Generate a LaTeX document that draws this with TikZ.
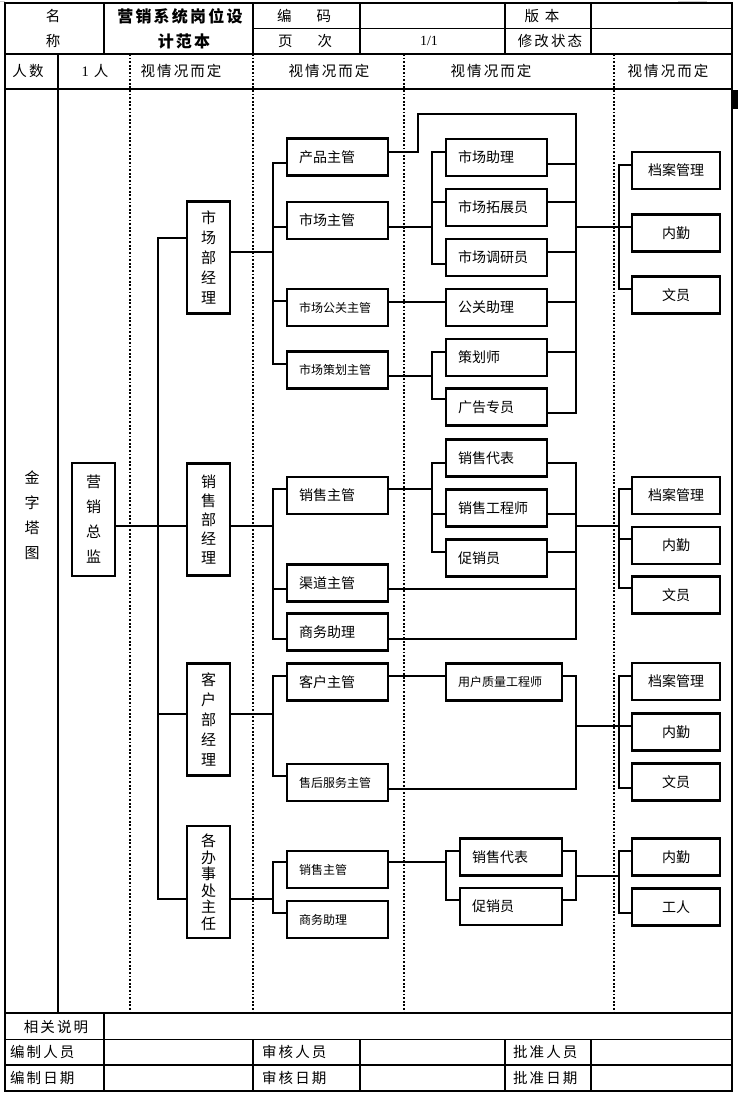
\documentclass[tikz,border=0pt]{standalone}
\usepackage{fontspec}
\usepackage{tikz}
\usetikzlibrary{calc}
\newfontfamily\cjk{Noto Sans CJK SC}
\newfontfamily\cjkwide[LetterSpace=14]{Noto Sans CJK SC}
\newfontfamily\numfont{Liberation Serif}

\tikzset{
  box/.style={draw, line width=2.2pt, minimum height=37pt, inner ysep=0pt,
    font=\cjk\fontsize{14}{16}\selectfont},
  lbox/.style={box, inner xsep=12pt, text width=#1, align=left},
  cbox/.style={box, minimum width=88pt, inner xsep=0pt},
  vbox/.style={box, minimum width=43pt, minimum height=112pt, inner xsep=0pt, align=center},
  small/.style={font=\cjk\fontsize{12}{13}\selectfont},
  conn/.style={line width=1.7pt},
  grid/.style={line width=1.3pt},
  sep/.style={line width=1.6pt, dash pattern=on 1.8pt off 1.8pt},
  cell/.style={inner sep=0pt, font=\cjkwide\fontsize{14.5}{17}\selectfont},
}

\begin{document}
\begin{tikzpicture}[x=1pt, y=-1pt]
  \useasboundingbox (0,0) rectangle (740,1100);
  % page corner marks
  \draw[gray!40, line width=0.8pt] (0,1) -- (5,1) (678,1) -- (707,1);
  % outer frame and table rules
  \draw[line width=2pt] (5,3) rectangle (732,1091);
  \draw[grid] (253,28.5) -- (732,28.5);
  \draw[grid] (5,54) -- (732,54) (5,89) -- (732,89);
  \draw[line width=1.8pt] (5,1013) -- (732,1013);
  \draw[grid] (5,1039.5) -- (732,1039.5) (5,1065) -- (732,1065);
  \foreach \x in {104,253,360,505,591} {
    \draw[grid] (\x,3) -- (\x,54);
    \draw[grid] (\x,1039.5) -- (\x,1091);
  }
  \draw[grid] (104,1013) -- (104,1039.5);
  \draw[grid] (58,54) -- (58,1013);
  \foreach \x in {130,253,404,614}
    \draw[sep] (\x,54) -- (\x,1013);
  \fill (733,90) rectangle (737.5,109);

  % header texts
  \node[cell] (hName) at (53,16) {名};
  \node[cell] (hName2) at (53,41) {称};
  \node[cell, font=\cjkwide\bfseries\fontsize{16}{18}\selectfont] (hTitle) at (180,16) {营销系统岗位设};
  \node[cell, font=\cjkwide\bfseries\fontsize{16}{18}\selectfont] (hTitle2) at (184,41) {计范本};
  \node[cell] (hCode) at (304,16) {编\hspace{25pt}码};
  \node[cell] (hPage) at (305,41) {页\hspace{25pt}次};
  \node[cell, font=\numfont\fontsize{14}{16}\selectfont] (hPageNo) at (429,41) {1/1};
  \node[cell] (hVer) at (542,16) {版\hspace{6pt}本};
  \node[cell] (hState) at (550,41) {修改状态};
  \node[cell] (hCount) at (28,71) {人数};
  \node[cell] (hOne) at (95,71) {{\numfont 1}\hspace{5pt}人};
  \foreach \x/\n in {181/a, 329/b, 491/c, 668/d}
    \node[cell] (hSee\n) at (\x,71) {视情况而定};

  % footer texts
  \node[cell] (fNote) at (56,1027) {相关说明};
  \node[cell, anchor=west] (fMaker) at (10,1052) {编制人员};
  \node[cell, anchor=west] (fMakeDate) at (10,1078) {编制日期};
  \node[cell, anchor=west] (fCheck) at (262,1052) {审核人员};
  \node[cell, anchor=west] (fCheckDate) at (262,1078) {审核日期};
  \node[cell, anchor=west] (fOk) at (513,1052) {批准人员};
  \node[cell, anchor=west] (fOkDate) at (513,1078) {批准日期};

  % bracket and merge lines
  \coordinate (tk) at (158,0);
  \coordinate (xD) at (273,0);
  \coordinate (xE) at (432,0);
  \coordinate (xO) at (446,0);
  \coordinate (xM) at (576,0);
  \coordinate (xF) at (619,0);

  % left columns
  \node[cell, align=center, font=\cjk\fontsize{15}{25}\selectfont] (pyr) at (32,515) {金\\字\\塔\\图};
  \node[vbox, minimum height=113pt, font=\cjk\fontsize{15}{25}\selectfont] (dir) at (93.5,519.5) {营\\销\\总\\监};

  % department heads
  \node[vbox, font=\cjk\fontsize{15}{20}\selectfont] (mkt) at (208.5,257.5) {市\\场\\部\\经\\理};
  \node[vbox, font=\cjk\fontsize{15}{19}\selectfont] (sales) at (208.5,519.5) {销\\售\\部\\经\\理};
  \node[vbox, font=\cjk\fontsize{15}{20}\selectfont] (cust) at (208.5,719.5) {客\\户\\部\\经\\理};
  \node[vbox, font=\cjk\fontsize{15}{16.5}\selectfont] (off) at (208.5,882) {各\\办\\事\\处\\主\\任};

  % supervisors
  \node[lbox=77pt] (pm) at (337.5,157) {产品主管};
  \node[lbox=77pt] (mm) at (337.5,220.5) {市场主管};
  \node[lbox=77pt, small] (pr) at (337.5,307.5) {市场公关主管};
  \node[lbox=77pt, small] (pl) at (337.5,370) {市场策划主管};
  \node[lbox=77pt] (sm) at (337.5,495.5) {销售主管};
  \node[lbox=77pt] (ch) at (337.5,583) {渠道主管};
  \node[lbox=77pt] (ba) at (337.5,632) {商务助理};
  \node[lbox=77pt] (cm) at (337.5,682) {客户主管};
  \node[lbox=77pt, small] (asv) at (337.5,782.5) {售后服务主管};
  \node[lbox=77pt, small] (osm) at (337.5,869.5) {销售主管};
  \node[lbox=77pt, small] (oba) at (337.5,919.5) {商务助理};

  % staff
  \node[lbox=77pt] (ma) at (496.5,157.5) {市场助理};
  \node[lbox=77pt] (me) at (496.5,207.5) {市场拓展员};
  \node[lbox=77pt] (mr) at (496.5,257.5) {市场调研员};
  \node[lbox=77pt] (pa) at (496.5,307.5) {公关助理};
  \node[lbox=77pt] (pd) at (496.5,357.5) {策划师};
  \node[lbox=77pt] (ad) at (496.5,407) {广告专员};
  \node[lbox=77pt] (sr) at (496.5,458) {销售代表};
  \node[lbox=77pt] (se) at (496.5,508) {销售工程师};
  \node[lbox=77pt] (pp) at (496.5,558) {促销员};
  \node[lbox=92pt, small] (qe) at (504,682) {用户质量工程师};
  \node[lbox=78pt] (osr) at (511,857) {销售代表};
  \node[lbox=78pt] (opp) at (511,906.5) {促销员};

  % back office
  \node[cbox] (fa1) at (676,170.5) {档案管理};
  \node[cbox] (fb1) at (676,233) {内勤};
  \node[cbox] (fc1) at (676,295) {文员};
  \node[cbox] (fa2) at (676,495.5) {档案管理};
  \node[cbox] (fb2) at (676,545.5) {内勤};
  \node[cbox] (fc2) at (676,595) {文员};
  \node[cbox] (fa3) at (676,681.5) {档案管理};
  \node[cbox] (fb3) at (676,732) {内勤};
  \node[cbox] (fc3) at (676,782) {文员};
  \node[cbox] (fb4) at (676,857) {内勤};
  \node[cbox] (fw4) at (676,907) {工人};

  % trunk under the director
  \draw[conn] ($(mkt.west)+(0,-19.5)$) -| ($(off.west -| tk)+(0,17)$) -- ($(off.west)+(0,17)$);
  \draw[conn] ($(cust.west -| tk)+(0,-5.5)$) -- ($(cust.west)+(0,-5.5)$);
  \draw[conn] ($(dir.east)+(0,6.5)$) -- ($(sales.west)+(0,6.5)$);

  % departments to supervisors
  \foreach \n/\dy in {mkt/-5.5, sales/6.5, cust/-5.5, off/17}
    \draw[conn] ($(\n.east)+(0,\dy)$) -- ($(\n.east -| xD)+(0,\dy)$);
  \draw[conn] ($(pm.west)+(0,6)$) -| ($(pl.west -| xD)+(0,-6)$) -- ($(pl.west)+(0,-6)$);
  \draw[conn] ($(sm.west)+(0,-6.5)$) -| ($(ba.west -| xD)+(0,7)$) -- ($(ba.west)+(0,7)$);
  \draw[conn] ($(cm.west)+(0,-6)$) -| ($(asv.west -| xD)+(0,-6.5)$) -- ($(asv.west)+(0,-6.5)$);
  \draw[conn] ($(osm.west)+(0,-7.5)$) -| ($(oba.west -| xD)+(0,-6.5)$) -- ($(oba.west)+(0,-6.5)$);
  \foreach \n/\dy in {mm/6.5, pr/-6.5, ch/6}
    \draw[conn] ($(\n.west)+(0,\dy)$) -- ($(\n.west -| xD)+(0,\dy)$);

  % supervisors to staff
  \foreach \n/\dy in {mm/6.5, pl/6, sm/-6.5}
    \draw[conn] ($(\n.east)+(0,\dy)$) -- ($(\n.east -| xE)+(0,\dy)$);
  \draw[conn] ($(ma.west)+(0,-5.5)$) -| ($(mr.west -| xE)+(0,6.5)$) -- ($(mr.west)+(0,6.5)$);
  \draw[conn] ($(pd.west)+(0,-5.5)$) -| ($(ad.west -| xE)+(0,-8)$) -- ($(ad.west)+(0,-8)$);
  \draw[conn] ($(sr.west)+(0,5)$) -| ($(pp.west -| xE)+(0,-6)$) -- ($(pp.west)+(0,-6)$);
  \foreach \n/\dy in {me/-5.5, se/6}
    \draw[conn] ($(\n.west)+(0,\dy)$) -- ($(\n.west -| xE)+(0,\dy)$);
  \draw[conn] ($(pr.east)+(0,-5.5)$) -- ($(pa.west)+(0,-5.5)$);
  \draw[conn] ($(cm.east)+(0,-6)$) -- ($(qe.west)+(0,-6)$);
  \draw[conn] ($(osm.east)+(0,-7.5)$) -- ($(osm.east -| xO)+(0,-7.5)$);
  \draw[conn] ($(osr.west)+(0,-6)$) -| ($(opp.west -| xO)+(0,-6.5)$) -- ($(opp.west)+(0,-6.5)$);

  % staff merged to the back office
  \draw[conn] ($(pm.east)+(0,-5)$) -- ++(29,0) -- ++(0,-38) -| ($(ad.east -| xM)+(0,6)$) -- ($(ad.east)+(0,6)$);
  \foreach \n/\dy in {ma/6.5, me/-5.5, mr/-5.5, pa/-5.5, pd/-5.5}
    \draw[conn] ($(\n.east)+(0,\dy)$) -- ($(\n.east -| xM)+(0,\dy)$);
  \draw[conn] ($(sr.east)+(0,5)$) -| ($(ba.east -| xM)+(0,7)$) -- ($(ba.east)+(0,7)$);
  \foreach \n/\dy in {se/6, pp/-6, ch/6}
    \draw[conn] ($(\n.east)+(0,\dy)$) -- ($(\n.east -| xM)+(0,\dy)$);
  \draw[conn] ($(qe.east)+(0,-6)$) -| ($(asv.east -| xM)+(0,6.5)$) -- ($(asv.east)+(0,6.5)$);
  \draw[conn] ($(osr.east)+(0,-6)$) -| ($(opp.east -| xM)+(0,-6.5)$) -- ($(opp.east)+(0,-6.5)$);

  \draw[conn] ($(fb1.west -| xM)+(0,-6)$) -- ($(fb1.west)+(0,-6)$);
  \draw[conn] ($(sales.east -| xM)+(0,6.5)$) -- ($(sales.east -| xF)+(0,6.5)$);
  \draw[conn] ($(fb3.west -| xM)+(0,-6)$) -- ($(fb3.west)+(0,-6)$);
  \draw[conn] ($(off.east -| xM)+(0,-6)$) -- ($(off.east -| xF)+(0,-6)$);
  \draw[conn] ($(fa1.west)+(0,-5.5)$) -| ($(fc1.west -| xF)+(0,-6)$) -- ($(fc1.west)+(0,-6)$);
  \draw[conn] ($(fa2.west)+(0,-6.5)$) -| ($(fc2.west -| xF)+(0,-7)$) -- ($(fc2.west)+(0,-7)$);
  \draw[conn] ($(fa3.west)+(0,-5.5)$) -| ($(fc3.west -| xF)+(0,6)$) -- ($(fc3.west)+(0,6)$);
  \draw[conn] ($(fb4.west)+(0,-6)$) -| ($(fw4.west -| xF)+(0,6)$) -- ($(fw4.west)+(0,6)$);
  \draw[conn] ($(fb2.west)+(0,-6.5)$) -- ($(fb2.west -| xF)+(0,-6.5)$);
\end{tikzpicture}
\end{document}
